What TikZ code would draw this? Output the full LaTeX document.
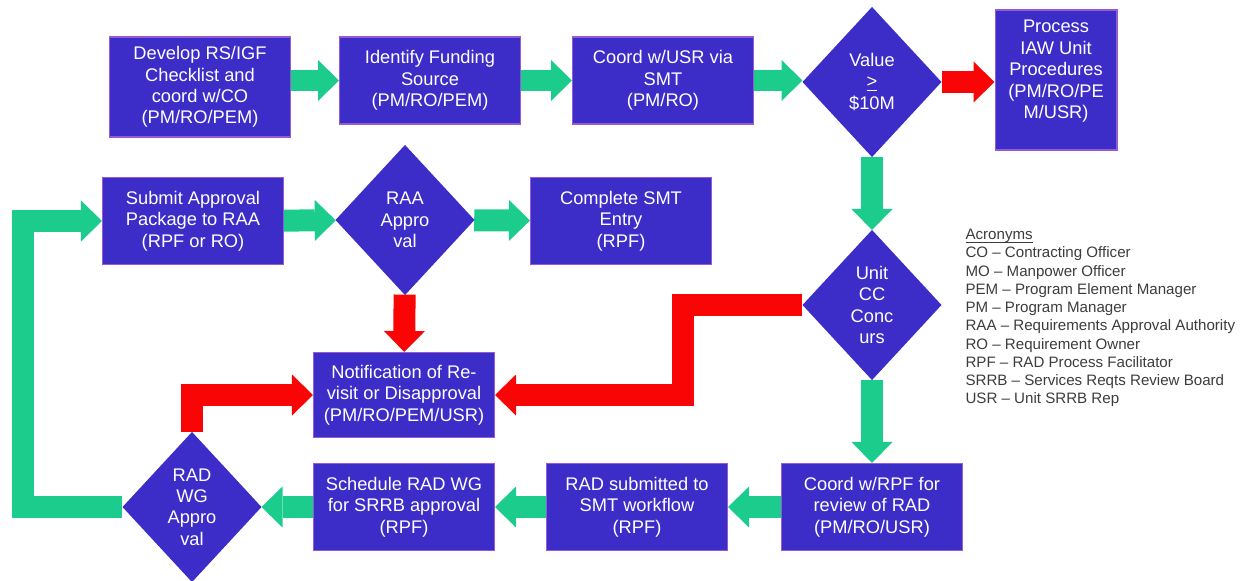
\documentclass[tikz,border=0pt]{standalone}
\usepackage{fontspec}
\setmainfont{Liberation Sans}
\usetikzlibrary{shapes.geometric,arrows.meta}
\definecolor{boxblue}{RGB}{60,45,200}
\definecolor{boxline}{RGB}{150,90,210}
\definecolor{flowgreen}{RGB}{28,204,140}
\definecolor{flowred}{RGB}{250,5,5}
\definecolor{acrogray}{RGB}{60,60,60}

\begin{document}
\begin{tikzpicture}[x=0.02cm, y=-0.02cm, semithick,
  box/.style={draw=boxline, fill=boxblue, text=white, align=center,
    minimum width=3.62cm, minimum height=1.74cm, inner sep=1pt,
    font=\fontsize{10.4}{12.2}\selectfont},
  choice/.style={diamond, draw=boxblue, fill=boxblue, text=white, align=center,
    minimum width=2.76cm, minimum height=2.98cm, inner sep=0pt,
    font=\fontsize{10.4}{12.2}\selectfont},
  flow/.style={line width=0.44cm, -{Triangle[length=0.42cm, width=0.82cm, line width=0pt]}},
  yesflow/.style={flow, draw=flowgreen},
  noflow/.style={flow, draw=flowred}]
  \useasboundingbox (0,0) rectangle (1250,581);

  % top row
  \node [box, minimum height=2cm] (dev) at (200,87) {Develop RS/IGF\\Checklist and\\coord w/CO\\(PM/RO/PEM)};
  \node [box] (fund) at (430,80.5) {Identify Funding\\Source\\(PM/RO/PEM)};
  \node [box] (usr) at (663,80.5) {Coord w/USR via\\SMT\\(PM/RO)};
  \node [choice] (val) at (872,82) {Value\\\underline{>}\\\$10M};
  \node [box, minimum width=2.44cm, minimum height=2.8cm] (proc) at (1056,80) {Process\\IAW Unit\\Procedures\\(PM/RO/PE\\M/USR)\\\mbox{}};

  % middle row
  \node [box] (sub) at (193,221) {Submit Approval\\Package to RAA\\(RPF or RO)};
  \node [choice] (raa) at (405,220) {RAA\\Appro\\val};
  \node [box] (smt) at (621,221) {Complete SMT\\Entry\\(RPF)};
  \node [choice] (unit) at (872,305) {Unit\\CC\\Conc\\urs};
  \node [box, minimum height=1.7cm] (note) at (404,395) {Notification of Re-\\visit or Disapproval\\(PM/RO/PEM/USR)};

  % bottom row
  \node [choice] (wg) at (192,507) {RAD\\WG\\Appro\\val};
  \node [box] (sched) at (404,507) {Schedule RAD WG\\for SRRB approval\\(RPF)};
  \node [box] (wflow) at (637,507) {RAD submitted to\\SMT workflow\\(RPF)};
  \node [box] (rpf) at (872,507) {Coord w/RPF for\\review of RAD\\(PM/RO/USR)};

  \coordinate (redbend) at (683,350);
  \coordinate (loopbend) at (23,360);

  \draw [yesflow] (dev.east |- fund.west) -- (fund.west);
  \draw [yesflow] (fund) -- (usr);
  \draw [yesflow] (usr.east) -- (usr.east -| val.west);
  \draw [noflow] (val.east) -- (val.east -| proc.west);
  \draw [yesflow] (val) -- (unit);
  \draw [yesflow] (unit) -- (rpf);
  \draw [noflow] (unit.west) -| (redbend) |- (note.east);
  \draw [yesflow] (rpf) -- (wflow);
  \draw [yesflow] (wflow) -- (sched);
  \draw [yesflow] (sched) -- (wg);
  \draw [yesflow] (wg.west) -| (loopbend) |- (sub.west);
  \draw [noflow] (wg.north) |- (note.west);
  \draw [yesflow] (sub) -- (raa);
  \draw [yesflow] (raa) -- (smt);
  \draw [noflow] (raa) -- (note);

  \node [anchor=north west, align=left, inner sep=0pt, text=acrogray,
    font=\fontsize{8.6}{10.4}\selectfont] (acro) at (965,239)
    {\underline{\smash{Acronyms}}\\
     CO – Contracting Officer\\
     MO – Manpower Officer\\
     PEM – Program Element Manager\\
     PM – Program Manager\\
     RAA – Requirements Approval Authority\\
     RO – Requirement Owner\\
     RPF – RAD Process Facilitator\\
     SRRB – Services Reqts Review Board\\
     USR – Unit SRRB Rep};
\end{tikzpicture}
\end{document}
